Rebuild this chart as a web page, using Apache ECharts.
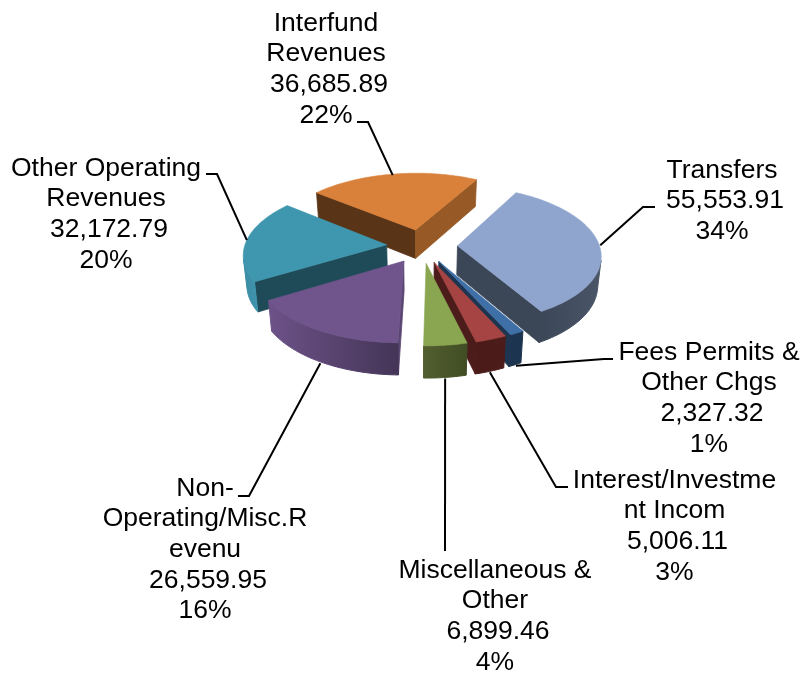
<!DOCTYPE html>
<html>
<head>
<meta charset="utf-8">
<style>html,body{margin:0;padding:0;background:#fff}#c{width:804px;height:673px}</style>
<script src="https://cdn.jsdelivr.net/npm/echarts@6/dist/echarts.min.js"></script>
</head>
<body>
<div id="c"></div>
<script>
const categories = ['Transfers','Fees Permits &\nOther Chgs','Interest/Investme\nnt Incom','Miscellaneous &\nOther','Non-\nOperating/Misc.R\nevenu','Other Operating\nRevenues','Interfund\nRevenues'];
const values = [55553.91,2327.32,5006.11,6899.46,26559.95,32172.79,36685.89];
const percentLabels = ['34%','1%','3%','4%','16%','20%','22%'];

// Styling and layout, kept apart from the data
const topColors  = ['#8FA5CD','#3E6FA6','#A54442','#8AA650','#6F558C','#3F97AF','#D9813A'];
const startFaces = ['#3B4657','#1D3550','#4B1C1A','#4D5A2A','#5A4672','#1F4B59','#5A3416'];
const endFaces   = ['#3B4657','#1D3550','#4B1C1A','#4D5A2A','#463658','#3A8AA1','#975A27'];
const wallFrom   = ['#4A5668','#1D3550','#4B1C1A','#414C24','#443557','#3F95AE','#975A27'];
const wallTo     = ['#3B4657','#1C344F','#4A1B18','#525F2F','#6D5288','#3A8AA1','#975A27'];
const drawOrder  = [2,4,5,6,3,1,0];           // rank per slice: back to front
const anchorOnBase = [false,true,true,true,true,false,false];
const anchorNudge = [[1,0],[1,1],[0,1],[0,1],[-1,1],[0,0],[0,1]];
const labelBoxes = [[722,155],[709,337],[674.5,465],[495,555],[205,473],[106,153],[326,8]]; // centre x, top y
const leaderElbows = [[[643,207],[655,207]],[[604,359],[613,359]],[[556,487],[568,487]],[[445,551]],[[249,496],[238,496]],[[217,174],[206,174]],[[368,122],[357,122]]];

const cx=422, cy=246, Rx=142, Ry=67.5, persp=0.125, depth=29, explode=0.25, startDeg=29;
const FONT = '26.5px "Liberation Sans", Arial, sans-serif';
const LINE = 30.7, VALUE_SHIFT = 3;

function scale(v){ return 1/(1-persp*v); }
function topPt(u,v){ const s=scale(v); return [cx+Rx*u*s, cy+Ry*v*s]; }
function basePt(u,v){ const s=scale(v); return [cx+Rx*u*s*0.98, cy+Ry*v*s+depth*(1+0.6*(s-1))]; }
function area(p){ let a=0; for(let i=0;i<p.length;i++){const q=p[(i+1)%p.length]; a+=p[i][0]*q[1]-q[0]*p[i][1];} return a; }
const total = values.reduce((a,b)=>a+b,0);
function fmt(v){ return v.toLocaleString('en-US',{minimumFractionDigits:2,maximumFractionDigits:2}); }

function renderSlice(params, api){
  const i = params.dataIndex, val = api.value(0);
  let before = 0; for(let k=0;k<i;k++) before += values[k];
  const a0 = startDeg + before/total*360, a1 = a0 + val/total*360, mid=(a0+a1)/2;
  const rad=d=>d*Math.PI/180;
  const ox=explode*Math.sin(rad(mid)), oy=-explode*Math.cos(rad(mid));
  const at=d=>[ox+Math.sin(rad(d)), oy-Math.cos(rad(d))];
  const steps=Math.max(2,Math.ceil((a1-a0)/1.5));
  const rim=[]; for(let k=0;k<=steps;k++) rim.push(at(a0+(a1-a0)*k/steps));
  const base=drawOrder[i]*1000, children=[];
  let z=base;
  const faces=(a,b)=>area([topPt(a[0],a[1]),topPt(b[0],b[1]),basePt(b[0],b[1]),basePt(a[0],a[1])])<0;
  const quad=(a,b,color)=>{
    if(!faces(a,b)) return;
    const pts=[topPt(a[0],a[1]),topPt(b[0],b[1]),basePt(b[0],b[1]),basePt(a[0],a[1])];
    children.push({type:'polygon',z2:z++,shape:{points:pts},style:{fill:color,stroke:color,lineWidth:0.8}});
  };
  const apex=[ox,oy];
  quad(apex,rim[0],startFaces[i]);
  quad(rim[steps],apex,endFaces[i]);
  // outer wall: the front-facing stretch of the rim, one polygon with a left-to-right gradient
  const vis=[]; for(let k=0;k<steps;k++) if(faces(rim[k],rim[k+1])){ if(!vis.length) vis.push(rim[k]); vis.push(rim[k+1]); }
  if(vis.length){
    const pts=vis.map(p=>topPt(p[0],p[1])).concat(vis.slice().reverse().map(p=>basePt(p[0],p[1])));
    const fill={type:'linear',x:0,y:0,x2:1,y2:0,colorStops:[{offset:0,color:wallTo[i]},{offset:1,color:wallFrom[i]}]};
    children.push({type:'polygon',z2:z++,shape:{points:pts},style:{fill:fill,stroke:fill,lineWidth:1}});
  }
  const topPoly=[topPt(ox,oy)].concat(rim.map(p=>topPt(p[0],p[1])));
  children.push({type:'polygon',z2:z++,shape:{points:topPoly},style:{fill:topColors[i],stroke:topColors[i],lineWidth:0.6}});
  const am=at(mid);
  const raw=anchorOnBase[i]?basePt(am[0],am[1]):topPt(am[0],am[1]);
  const anchor=[raw[0]+anchorNudge[i][0],raw[1]+anchorNudge[i][1]];
  children.push({type:'polyline',z2:9000,shape:{points:[anchor].concat(leaderElbows[i])},style:{fill:null,stroke:'#000',lineWidth:2}});
  const nameLines=categories[i].split('\n');
  const lines=nameLines.map(t=>[t,0]).concat([[fmt(val),VALUE_SHIFT],[percentLabels[i],0]]);
  lines.forEach((l,n)=>{
    children.push({type:'text',z2:9001,style:{
      text:l[0],x:labelBoxes[i][0]+l[1],y:labelBoxes[i][1]+n*LINE,align:'center',verticalAlign:'top',
      font:FONT,lineHeight:LINE,fill:'#000'}});
  });
  return {type:'group',children};
}

const chart=echarts.init(document.getElementById('c'),null,{renderer:'canvas'});
chart.setOption({
  animation:false,
  backgroundColor:'#fff',
  series:[{type:'custom',coordinateSystem:'none',renderItem:renderSlice,
    data:values.map((v,i)=>({name:categories[i].replace(/\n/g,' '),value:[v]}))}]
});
</script>
</body>
</html>
